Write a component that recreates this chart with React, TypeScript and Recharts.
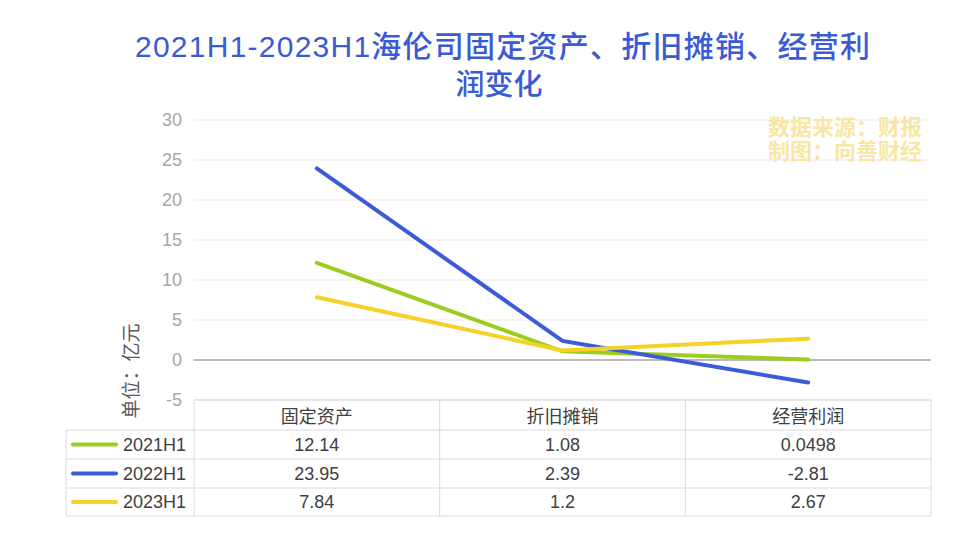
import React from 'react';
import { LineChart, Line, XAxis, YAxis, CartesianGrid, ReferenceLine } from 'recharts';

document.body.style.margin = '0';

const categories = ['固定资产', '折旧摊销', '经营利润'];
const periods = ['2021H1', '2022H1', '2023H1'];
const colors = ['#9acd1e', '#3b5bd9', '#f6d126'];
const values2021 = [12.14, 1.08, 0.0498];
const values2022 = [23.95, 2.39, -2.81];
const values2023 = [7.84, 1.2, 2.67];
const yTicks = [-5, 0, 5, 10, 15, 20, 25, 30];

const seriesValues = [values2021, values2022, values2023];
const data = categories.map((name, i) => ({
  name,
  [periods[0]]: values2021[i],
  [periods[1]]: values2022[i],
  [periods[2]]: values2023[i],
}));

const W = 956;
const H = 541;
const plotLeft = 194;
const plotRight = 931;
const plotTop = 120;
const plotBottom = 400;
const legendLeft = 66;
const rowEdges = [400, 430, 459, 488, 516];
const colW = (plotRight - plotLeft) / categories.length;
const colEdges = categories.map((_, i) => plotLeft + i * colW).concat(plotRight);

const font = "'Liberation Sans', 'Noto Sans CJK SC', sans-serif";
const cjk = "'Noto Sans CJK SC', 'Liberation Sans', sans-serif";
const gridColor = '#d9d9d9';
const textColor = '#404040';
const titleColor = '#3a5bd6';

function DataTable() {
  const rowMid = (r: number) => (rowEdges[r] + rowEdges[r + 1]) / 2;
  return (
    <g fontFamily={font} fontSize={18} fill={textColor}>
      <line x1={plotLeft} x2={plotRight} y1={rowEdges[0]} y2={rowEdges[0]} stroke={gridColor} />
      {rowEdges.slice(1).map((y) => (
        <line key={y} x1={legendLeft} x2={plotRight} y1={y} y2={y} stroke={gridColor} />
      ))}
      <line x1={legendLeft} x2={legendLeft} y1={rowEdges[1]} y2={rowEdges[4]} stroke={gridColor} />
      {colEdges.map((x) => (
        <line key={x} x1={x} x2={x} y1={rowEdges[0]} y2={rowEdges[4]} stroke={gridColor} />
      ))}
      {categories.map((c, i) => (
        <text key={c} x={colEdges[i] + colW / 2} y={rowMid(0)} textAnchor="middle" dominantBaseline="central" fontFamily={cjk}>
          {c}
        </text>
      ))}
      {periods.map((p, r) => (
        <g key={p}>
          <line x1={73} x2={116} y1={rowMid(r + 1)} y2={rowMid(r + 1)} stroke={colors[r]} strokeWidth={4} strokeLinecap="round" />
          <text x={123} y={rowMid(r + 1)} dominantBaseline="central">{p}</text>
          {seriesValues[r].map((v, i) => (
            <text key={i} x={colEdges[i] + colW / 2} y={rowMid(r + 1)} textAnchor="middle" dominantBaseline="central">
              {String(v)}
            </text>
          ))}
        </g>
      ))}
    </g>
  );
}

export default function App() {
  return (
    <div style={{ position: 'relative', width: W, height: H, background: '#fff', fontFamily: font }}>
      <LineChart
        width={W}
        height={H}
        data={data}
        margin={{ top: plotTop, right: W - plotRight, bottom: H - plotBottom, left: plotLeft - 40 }}
      >
        <CartesianGrid vertical={false} stroke="#ebebeb" />
        <XAxis dataKey="name" hide padding={{ left: colW / 2, right: colW / 2 }} />
        <YAxis
          width={40}
          domain={[-5, 30]}
          ticks={yTicks}
          axisLine={false}
          tickLine={false}
          tickMargin={6}
          tick={{ fill: '#a6a6a6', fontSize: 18 }}
        />
        <ReferenceLine y={0} stroke="#a6a6a6" strokeWidth={1.5} />
        {periods.map((p, i) => (
          <Line
            key={p}
            type="linear"
            dataKey={p}
            stroke={colors[i]}
            strokeWidth={4}
            strokeLinecap="round"
            dot={false}
            activeDot={false}
            isAnimationActive={false}
          />
        ))}
      </LineChart>
      <svg width={W} height={H} style={{ position: 'absolute', left: 0, top: 0, pointerEvents: 'none' }}>
        <text
          x={135}
          y={57}
          textLength={735}
          lengthAdjust="spacing"
          fontSize={30}
          fontWeight={500}
          fill={titleColor}
          fontFamily={font}
        >
          2021H1-2023H1
          <tspan fontFamily={cjk}>海伦司固定资产、折旧摊销、经营利</tspan>
        </text>
        <text x={499} y={95} textAnchor="middle" fontSize={29} fontWeight={500} fill={titleColor} fontFamily={cjk}>
          润变化
        </text>
        <g fontFamily={cjk} fontSize={22} fontWeight={700} fill="#f9e6a4" textAnchor="end">
          <text x={922} y={135}>数据来源：财报</text>
          <text x={922} y={159}>制图：向善财经</text>
        </g>
        <text
          transform="translate(138, 371) rotate(-90)"
          textAnchor="middle"
          fontFamily={cjk}
          fontSize={19}
          fill="#595959"
        >
          单位：亿元
        </text>
        <DataTable />
      </svg>
    </div>
  );
}
